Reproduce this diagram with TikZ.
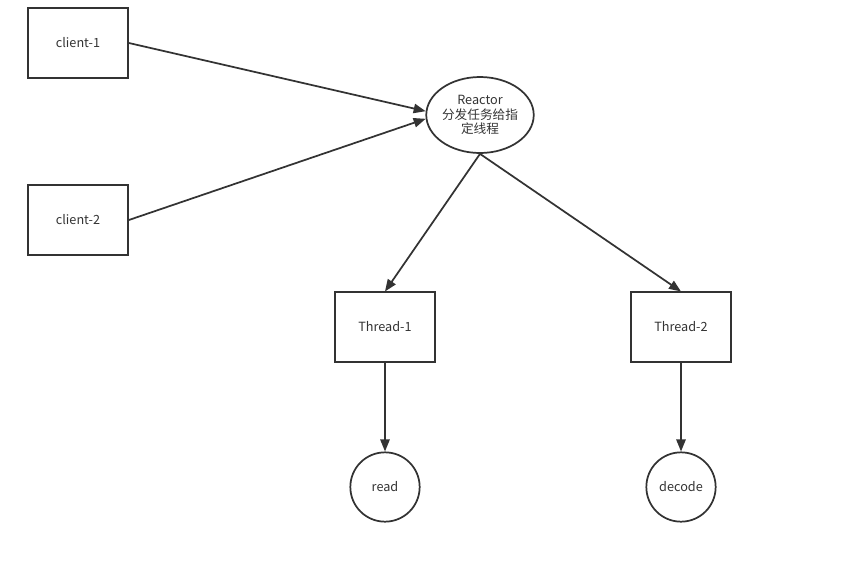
\documentclass[tikz,border=0pt]{standalone}
\usepackage{fontspec}
\setmainfont{Noto Sans CJK SC}
\usepackage{xcolor}
\usepackage{tikz}
\usetikzlibrary{arrows.meta, positioning, shapes.geometric}
\definecolor{linegray}{RGB}{51, 51, 51}

\begin{document}
\begin{tikzpicture}[
  x=0.75pt, y=-0.75pt,
  procbox/.style={draw=linegray, line width=1.3pt, minimum width=75pt, minimum height=52pt, font=\fontsize{9.5}{11}\selectfont, text=linegray},
  taskcirc/.style={circle, draw=linegray, line width=1.3pt, minimum size=52pt, inner sep=0pt, font=\fontsize{9.5}{11}\selectfont, text=linegray},
  flow/.style={-{Triangle[length=9pt, width=7pt]}, draw=linegray, line width=1.3pt},
]
  \useasboundingbox (0,0) rectangle (842,579);

  % Clients
  \node[procbox] (client1) at (78,43) {client-1};
  \node[procbox] (client2) at (78,220) {client-2};

  % Reactor
  \node[ellipse, draw=linegray, line width=1.3pt, minimum width=79pt, minimum height=57pt, inner sep=0pt, align=center, text=linegray, font=\fontsize{9.5}{11}\selectfont] (reactor) at (480,115) {Reactor\\分发任务给指\\定线程};

  % Threads
  \node[procbox] (thread1) at (385,327) {Thread-1};
  \node[procbox] (thread2) at (681,327) {Thread-2};

  % Tasks
  \node[taskcirc] (read) at (385,487) {read};
  \node[taskcirc] (decode) at (681,487) {decode};

  % Connectors
  \draw[flow] (client1.east) -- (reactor.176);
  \draw[flow] (client2.east) -- (reactor.184);
  \draw[flow] (reactor.south) -- (thread1.north);
  \draw[flow] (reactor.south) -- (thread2.north);
  \draw[flow] (thread1.south) -- (read.north);
  \draw[flow] (thread2.south) -- (decode.north);

\end{tikzpicture}
\end{document}
